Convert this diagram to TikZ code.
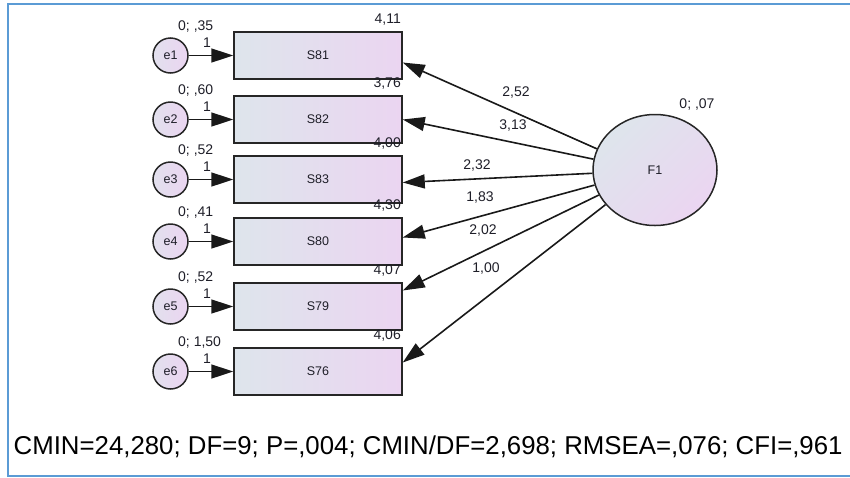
\documentclass[tikz,border=0pt]{standalone}
\usepackage{fontspec}
\setmainfont{Liberation Sans}
\usetikzlibrary{arrows.meta}
\definecolor{frameblue}{HTML}{5B9BD5}
\definecolor{gleft}{HTML}{DEE5EC}
\definecolor{gright}{HTML}{EBD5F1}
\definecolor{txt}{HTML}{1E1E28}
\tikzset{
  obsbox/.style={draw=black!85, line width=1.5pt, minimum width=168pt, minimum height=47pt, inner sep=0pt,
     left color=gleft, right color=gright, font=\fontsize{12.5}{14}\selectfont, text=txt},
  errc/.style={circle, draw=black!85, line width=1.5pt, minimum size=35pt, inner sep=0pt,
     left color=gleft!70!gright, right color=gright, font=\fontsize{12.5}{14}\selectfont, text=txt},
  latent/.style={ellipse, draw=black!85, line width=1.5pt, minimum width=124pt, minimum height=111pt, inner sep=0pt,
     top color=gleft, bottom color=gright, shading angle=45, font=\fontsize{12.5}{14}\selectfont, text=txt},
  arr/.style={draw=black!90, line width=1.6pt, -{Triangle[length=22pt,width=14pt]}},
  numlab/.style={font=\fontsize{14}{16}\selectfont, text=txt, inner sep=0pt},
}
\usetikzlibrary{shapes.geometric}
\begin{document}
\begin{tikzpicture}[x=1pt,y=-1pt]
\useasboundingbox (0,0) rectangle (850,477);
\draw[frameblue, line width=2pt] (852,4) -- (7.5,4) -- (7.5,475.5) -- (852,475.5);

\foreach \i/\nm/\yy/\var/\mean in {1/S81/55.5/{0; ,35}/{4,11},2/S82/119.5/{0; ,60}/{3,76},3/S83/179.5/{0; ,52}/{4,00},4/S80/241.5/{0; ,41}/{4,30},5/S79/306.5/{0; ,52}/{4,07},6/S76/371.5/{0; 1,50}/{4,06}}{
  \node[obsbox] (s\i) at (318,\yy) {\nm};
  \node[errc] (e\i) at (170.5,\yy) {e\i};
  \draw[arr] (e\i) -- (s\i);
  \node[numlab, anchor=west] (v\i) at (178,\yy-29) {\var};
  \node[numlab] (one\i) at (207,\yy-13) {1};
  \node[numlab, anchor=east] (m\i) at (401,\yy-36) {\mean};
}

\node[latent] (F1) at (655,170) {F1};
\node[numlab] (vF) at (697,104.5) {0; ,07};

\draw[arr] (F1.160) -- ([yshift=-7pt]s1.east);
\draw[arr] (F1.170) -- ([yshift=0pt]s2.east);
\draw[arr] (F1.183) -- ([yshift=-3pt]s3.east);
\draw[arr] (F1.194) -- ([yshift=4pt]s4.east);
\draw[arr] (F1.204) -- ([yshift=16pt]s5.east);
\draw[arr] (F1.215.5) -- ([yshift=9pt]s6.east);

\node[numlab] (l1) at (516,93) {2,52};
\node[numlab] (l2) at (513,126) {3,13};
\node[numlab] (l3) at (477,166) {2,32};
\node[numlab] (l4) at (480,198) {1,83};
\node[numlab] (l5) at (483,231) {2,02};
\node[numlab] (l6) at (486,269) {1,00};

\node[font=\fontsize{25.8}{30}\selectfont, text=black, inner sep=0pt, anchor=base west] (fit) at (13.5,454) {CMIN=24,280; DF=9; P=,004; CMIN/DF=2,698; RMSEA=,076; CFI=,961};
\end{tikzpicture}
\end{document}
